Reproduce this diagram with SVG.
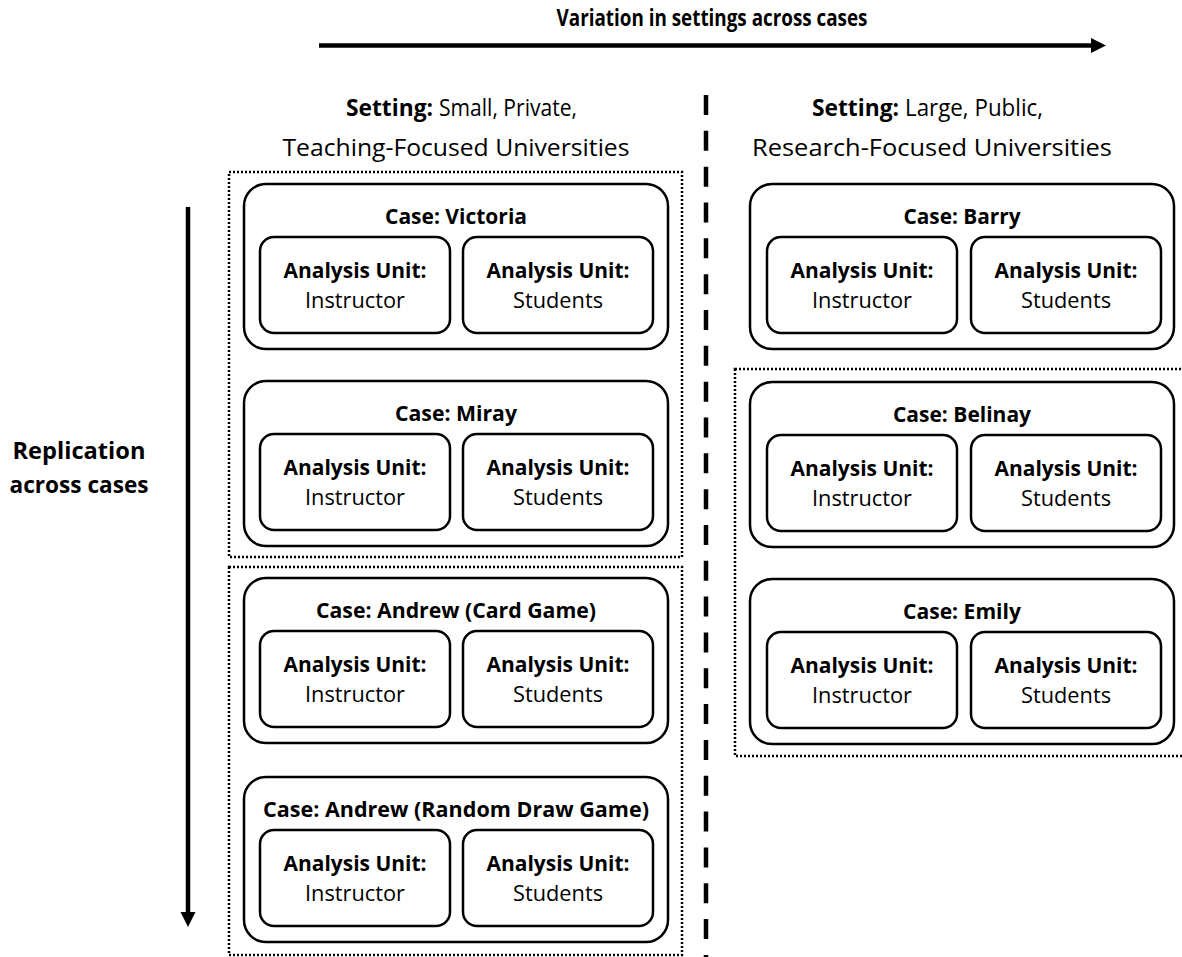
<svg xmlns="http://www.w3.org/2000/svg" width="1182" height="957" viewBox="0 0 1182 957">
<defs>
<style>
text{font-family:"Open Sans","Liberation Sans",sans-serif;fill:#000;}
.b{font-weight:bold;}
.case{fill:#fff;stroke:#000;stroke-width:2.5;}
.unit{fill:#fff;stroke:#000;stroke-width:2.5;}
.dot{fill:none;stroke:#000;stroke-width:2.5;stroke-dasharray:2 2;}
.ct{font-size:22px;font-weight:bold;text-anchor:middle;}
.uh{font-size:21px;font-weight:bold;text-anchor:middle;}
.ut{font-size:22px;text-anchor:middle;}
.st{font-size:24px;}
</style>
</defs>
<rect width="1182" height="957" fill="#fff"/>

<g id="labels">
<text x="712" y="26" class="b" font-size="23" text-anchor="middle" textLength="311" lengthAdjust="spacingAndGlyphs">Variation in settings across cases</text>
<text x="346" y="116" class="st b" textLength="87" lengthAdjust="spacingAndGlyphs">Setting:</text>
<text x="439" y="116" class="st" textLength="138" lengthAdjust="spacingAndGlyphs">Small, Private,</text>
<text x="456" y="156" class="st" text-anchor="middle" textLength="347" lengthAdjust="spacingAndGlyphs">Teaching-Focused Universities</text>
<text x="812" y="116" class="st b" textLength="87" lengthAdjust="spacingAndGlyphs">Setting:</text>
<text x="905" y="116" class="st" textLength="138" lengthAdjust="spacingAndGlyphs">Large, Public,</text>
<text x="932" y="156" class="st" text-anchor="middle" textLength="360" lengthAdjust="spacingAndGlyphs">Research-Focused Universities</text>
<text x="79" y="459" class="b" font-size="23" text-anchor="middle" textLength="133" lengthAdjust="spacingAndGlyphs">Replication</text>
<text x="79" y="493" class="b" font-size="23" text-anchor="middle" textLength="139" lengthAdjust="spacingAndGlyphs">across cases</text>
</g>

<g id="connectors">
<line x1="319" y1="45.5" x2="1092" y2="45.5" stroke="#000" stroke-width="4.5"/>
<polygon points="1091,38 1106,45.5 1091,53" fill="#000"/>
<line x1="188" y1="207" x2="188" y2="913" stroke="#000" stroke-width="4.5"/>
<polygon points="180.5,912 195.5,912 188,927" fill="#000"/>
<line x1="706" y1="95" x2="706" y2="957" stroke="#000" stroke-width="4.5" stroke-dasharray="20 15.83"/>
</g>

<g id="groups">
<rect id="grp-small-1" class="dot" x="229" y="172" width="453" height="385"/>
<rect id="grp-small-2" class="dot" x="229" y="567" width="453" height="388"/>
<rect id="grp-large" class="dot" x="735" y="369" width="460" height="387"/>
</g>

<g id="case-victoria">
<rect class="case" x="244" y="184" width="424" height="165" rx="22"/>
<text class="ct" x="456" y="224" textLength="142" lengthAdjust="spacingAndGlyphs">Case: Victoria</text>
<rect class="unit" x="260" y="237" width="190" height="96" rx="14"/>
<text class="uh" x="355" y="278" textLength="143" lengthAdjust="spacingAndGlyphs">Analysis Unit:</text>
<text class="ut" x="355" y="308" textLength="100" lengthAdjust="spacingAndGlyphs">Instructor</text>
<rect class="unit" x="463" y="237" width="190" height="96" rx="14"/>
<text class="uh" x="558" y="278" textLength="143" lengthAdjust="spacingAndGlyphs">Analysis Unit:</text>
<text class="ut" x="558" y="308" textLength="90" lengthAdjust="spacingAndGlyphs">Students</text>
</g>

<g id="case-miray">
<rect class="case" x="244" y="381" width="424" height="165" rx="22"/>
<text class="ct" x="456" y="421" textLength="122" lengthAdjust="spacingAndGlyphs">Case: Miray</text>
<rect class="unit" x="260" y="434" width="190" height="96" rx="14"/>
<text class="uh" x="355" y="475" textLength="143" lengthAdjust="spacingAndGlyphs">Analysis Unit:</text>
<text class="ut" x="355" y="505" textLength="100" lengthAdjust="spacingAndGlyphs">Instructor</text>
<rect class="unit" x="463" y="434" width="190" height="96" rx="14"/>
<text class="uh" x="558" y="475" textLength="143" lengthAdjust="spacingAndGlyphs">Analysis Unit:</text>
<text class="ut" x="558" y="505" textLength="90" lengthAdjust="spacingAndGlyphs">Students</text>
</g>

<g id="case-andrew-card">
<rect class="case" x="244" y="578" width="424" height="165" rx="22"/>
<text class="ct" x="456" y="618" textLength="280" lengthAdjust="spacingAndGlyphs">Case: Andrew (Card Game)</text>
<rect class="unit" x="260" y="631" width="190" height="96" rx="14"/>
<text class="uh" x="355" y="672" textLength="143" lengthAdjust="spacingAndGlyphs">Analysis Unit:</text>
<text class="ut" x="355" y="702" textLength="100" lengthAdjust="spacingAndGlyphs">Instructor</text>
<rect class="unit" x="463" y="631" width="190" height="96" rx="14"/>
<text class="uh" x="558" y="672" textLength="143" lengthAdjust="spacingAndGlyphs">Analysis Unit:</text>
<text class="ut" x="558" y="702" textLength="90" lengthAdjust="spacingAndGlyphs">Students</text>
</g>

<g id="case-andrew-random">
<rect class="case" x="244" y="777" width="424" height="165" rx="22"/>
<text class="ct" x="456" y="817" textLength="386" lengthAdjust="spacingAndGlyphs">Case: Andrew (Random  Draw Game)</text>
<rect class="unit" x="260" y="830" width="190" height="96" rx="14"/>
<text class="uh" x="355" y="871" textLength="143" lengthAdjust="spacingAndGlyphs">Analysis Unit:</text>
<text class="ut" x="355" y="901" textLength="100" lengthAdjust="spacingAndGlyphs">Instructor</text>
<rect class="unit" x="463" y="830" width="190" height="96" rx="14"/>
<text class="uh" x="558" y="871" textLength="143" lengthAdjust="spacingAndGlyphs">Analysis Unit:</text>
<text class="ut" x="558" y="901" textLength="90" lengthAdjust="spacingAndGlyphs">Students</text>
</g>

<g id="case-barry">
<rect class="case" x="750" y="184" width="424" height="165" rx="22"/>
<text class="ct" x="962" y="224" textLength="117" lengthAdjust="spacingAndGlyphs">Case: Barry</text>
<rect class="unit" x="767" y="237" width="190" height="96" rx="14"/>
<text class="uh" x="862" y="278" textLength="143" lengthAdjust="spacingAndGlyphs">Analysis Unit:</text>
<text class="ut" x="862" y="308" textLength="100" lengthAdjust="spacingAndGlyphs">Instructor</text>
<rect class="unit" x="971" y="237" width="190" height="96" rx="14"/>
<text class="uh" x="1066" y="278" textLength="143" lengthAdjust="spacingAndGlyphs">Analysis Unit:</text>
<text class="ut" x="1066" y="308" textLength="90" lengthAdjust="spacingAndGlyphs">Students</text>
</g>

<g id="case-belinay">
<rect class="case" x="750" y="382" width="424" height="165" rx="22"/>
<text class="ct" x="962" y="422" textLength="138" lengthAdjust="spacingAndGlyphs">Case: Belinay</text>
<rect class="unit" x="767" y="435" width="190" height="96" rx="14"/>
<text class="uh" x="862" y="476" textLength="143" lengthAdjust="spacingAndGlyphs">Analysis Unit:</text>
<text class="ut" x="862" y="506" textLength="100" lengthAdjust="spacingAndGlyphs">Instructor</text>
<rect class="unit" x="971" y="435" width="190" height="96" rx="14"/>
<text class="uh" x="1066" y="476" textLength="143" lengthAdjust="spacingAndGlyphs">Analysis Unit:</text>
<text class="ut" x="1066" y="506" textLength="90" lengthAdjust="spacingAndGlyphs">Students</text>
</g>

<g id="case-emily">
<rect class="case" x="750" y="579" width="424" height="165" rx="22"/>
<text class="ct" x="962" y="619" textLength="118" lengthAdjust="spacingAndGlyphs">Case: Emily</text>
<rect class="unit" x="767" y="632" width="190" height="96" rx="14"/>
<text class="uh" x="862" y="673" textLength="143" lengthAdjust="spacingAndGlyphs">Analysis Unit:</text>
<text class="ut" x="862" y="703" textLength="100" lengthAdjust="spacingAndGlyphs">Instructor</text>
<rect class="unit" x="971" y="632" width="190" height="96" rx="14"/>
<text class="uh" x="1066" y="673" textLength="143" lengthAdjust="spacingAndGlyphs">Analysis Unit:</text>
<text class="ut" x="1066" y="703" textLength="90" lengthAdjust="spacingAndGlyphs">Students</text>
</g>
</svg>
